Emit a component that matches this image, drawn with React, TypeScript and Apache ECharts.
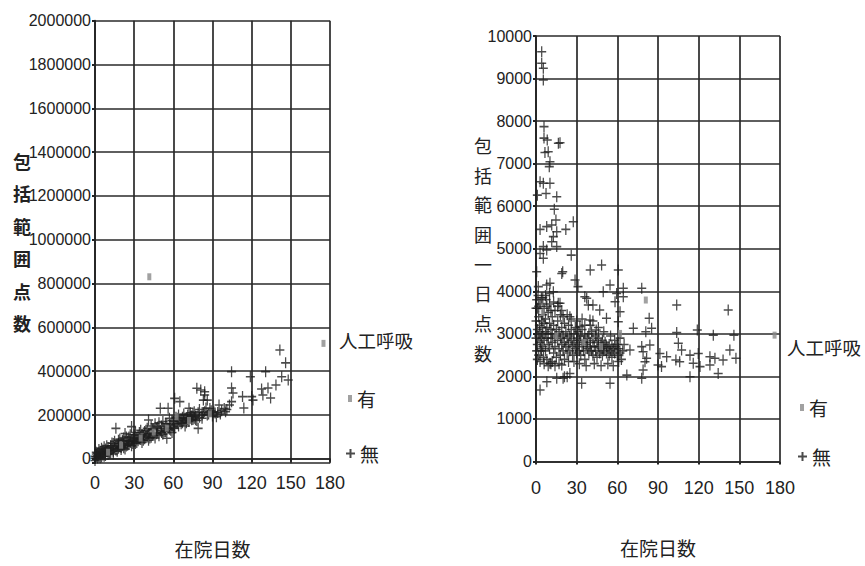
import React, { useEffect, useRef } from "react";
import * as echarts from "echarts";

// 在院日数 tick labels (shared by both panels)
const dayTicks = [0, 30, 60, 90, 120, 150, 180];

// Left panel: 包括範囲点数 by 在院日数, [days, points]
const totalWithVent: [number, number][] = [
  [41.6, 831000], [175, 527000], [10, 30000], [20, 62000], [35, 95000],
  [45, 122000], [55, 140000], [62.5, 192000], [72, 175000], [88, 205000],
];

const totalWithoutVent: [number, number][] = [
  [0, 3000], [0, -8000], [1, 9000], [1, 22000], [2, 4000], [2, 15000], [3, 28000], [3, 10000],
  [4, 18000], [4, 35000], [5, 8000], [5, 26000], [6, 40000], [6, 17000], [7, 30000], [7, 12000],
  [8, 45000], [8, 24000], [9, 33000], [10, 52000], [10, 20000], [11, 38000], [12, 28000],
  [12, 60000], [13, 44000], [14, 35000], [14, 70000], [15, 50000], [16, 40000], [16, 139000],
  [17, 62000], [18, 48000], [18, 85000], [19, 55000], [20, 72000], [20, 42000], [21, 60000],
  [22, 95000], [22, 50000], [23, 116000], [23, 68000], [24, 58000], [25, 80000], [26, 65000],
  [26, 100000], [27, 75000], [28, 147000], [28, 60000], [29, 90000], [30, 78000], [30, 110000],
  [31, 70000], [32, 95000], [33, 82000], [34, 120000], [35, 88000], [36, 75000], [37, 105000],
  [38, 92000], [39, 130000], [40, 100000], [41, 177000], [41, 85000], [42, 115000], [43, 98000],
  [44, 135000], [45, 108000], [46, 95000], [47, 140000], [48, 118000], [49, 105000],
  [50, 231000], [50, 130000], [51, 150000], [52, 112000], [53, 140000], [54, 125000],
  [55, 94000], [55, 160000], [56, 231000], [57, 135000], [58, 155000], [59, 120000],
  [60, 170000], [61, 276000], [61, 140000], [62, 160000], [63, 185000], [64, 150000],
  [65, 261000], [65, 172000], [66, 160000], [67, 190000], [68, 175000], [69, 150000],
  [70, 185000], [71, 200000], [72, 231000], [72, 170000], [73, 190000], [74, 178000],
  [75, 205000], [76, 185000], [77, 195000], [78, 322000], [78, 175000], [79, 139000],
  [79, 210000], [80, 190000], [81, 314000], [82, 200000], [83, 268000], [84, 291000],
  [84, 306000], [84, 215000], [85, 232000], [86, 268000], [87, 205000], [89, 220000],
  [90, 195000], [92, 209000], [93, 192000], [94, 212000], [95, 246000], [96, 205000],
  [100, 215000], [103, 246000], [104.6, 261000], [104.6, 323000], [104.6, 398000],
  [105.7, 300000], [113, 284000], [114, 232000], [119, 375000], [120, 284000], [121, 268000],
  [127.6, 319000], [128.6, 291000], [130.7, 398000], [132.5, 323000], [134.5, 278000],
  [138.6, 337000], [141.6, 497000], [143, 375000], [146, 438000], [148, 360000],
  [0, 12000], [1, 30000], [2, 26000], [3, 42000], [4, 5000], [5, 48000], [6, 30000],
  [7, 55000], [8, 15000], [9, 60000], [10, 38000], [11, 25000], [12, 45000], [13, 72000],
  [14, 22000], [15, 80000], [16, 58000], [17, 35000], [18, 70000], [19, 90000], [20, 52000],
  [21, 85000], [22, 70000], [23, 45000], [24, 100000], [25, 62000], [26, 82000],
  [27, 110000], [28, 85000], [29, 70000], [30, 95000], [31, 120000], [32, 75000],
  [33, 105000], [34, 90000], [35, 130000], [36, 110000], [37, 85000], [38, 125000],
  [39, 100000], [40, 140000], [41, 115000], [42, 95000], [43, 150000], [44, 110000],
  [45, 135000], [46, 160000], [47, 115000], [48, 145000], [49, 165000], [51, 120000],
  [52, 170000], [53, 125000], [54, 160000], [56, 140000], [57, 185000], [58, 130000],
  [59, 175000], [60, 145000], [62, 190000], [63, 160000], [64, 200000], [66, 180000],
  [67, 165000], [68, 205000], [69, 185000], [70, 165000], [71, 180000], [73, 210000],
  [74, 195000], [75, 180000], [76, 215000], [77, 178000], [80, 225000], [82, 185000],
  [83, 210000], [86, 200000], [88, 230000], [91, 215000], [97, 220000], [99, 230000],
  [101, 225000],
];

// Right panel: 包括範囲一日点数 by 在院日数, [days, points per day]
const dailyWithVent: [number, number][] = [
  [176, 2970], [62, 3010], [81, 3795], [5, 3500], [15, 2950], [35, 2800], [48, 2700],
];

const dailyWithoutVent: [number, number][] = [
  [4.2, 9630], [4.2, 9360], [5.4, 9240], [5.4, 8965], [5.9, 7870], [5.9, 7600], [8.3, 7555],
  [16.5, 7480], [17.7, 7490], [6.6, 7260], [9, 7280], [10.3, 7045], [9.8, 6930], [3, 6575],
  [5.4, 6540], [10.3, 6540], [7.4, 6300], [1, 6260], [15.3, 6220], [13.5, 5930], [14.7, 5675],
  [27.5, 5635], [3, 5455], [7.9, 5520], [11.6, 5560], [15.3, 5400], [22, 5455], [12.8, 5285],
  [5.4, 5050], [7.9, 4970], [11.6, 5165], [15.3, 5050], [3, 4890], [26, 4850], [19.7, 4460],
  [40, 4500], [10.3, 4190], [28.8, 4265], [31, 4110], [1.7, 4110], [12.8, 3990], [36, 3870],
  [38.6, 3680], [17.7, 3720], [19, 4420], [48.4, 4620], [5.4, 4775], [0.5, 4460], [7.9, 4150],
  [54.6, 4150], [37.4, 3835], [49.6, 3990], [59.5, 3950], [16.4, 3720], [42, 3680], [47, 3560],
  [52, 3365], [39.8, 3325], [60.7, 3285], [25, 3400], [32.4, 3170], [44.4, 3090], [10.3, 2310],
  [19, 2270], [25, 2070], [8, 1875], [15.3, 1955], [20, 1955], [21, 1990], [23, 1990],
  [33.7, 1840], [54.6, 1840], [3, 1680], [60.7, 4500], [64.4, 4070], [78, 4070], [64.4, 3870],
  [58.3, 3755], [103.8, 3680], [141.8, 3560], [62, 3520], [83.5, 3365], [71.8, 3130],
  [85.3, 3130], [81, 3050], [103.8, 3030], [119, 3090], [130.8, 2970], [146, 2970],
  [105, 2780], [107.4, 2620], [78, 2700], [84, 2740], [69.3, 2620], [79, 2580], [91.4, 2540],
  [96.4, 2460], [113.6, 2500], [119.7, 2540], [128.3, 2460], [132, 2425], [138, 2385],
  [143, 2620], [147.5, 2425], [103.2, 2385], [106, 2345], [116, 2310], [121, 2230],
  [128.3, 2270], [90, 2270], [92.6, 2230], [79, 2150], [67, 2030], [78, 1955], [134.4, 2070],
  [113.6, 1990], [80.4, 2345], [81.6, 2425],
  [0, 2900], [0, 3300], [0.5, 2600], [1, 3100], [1, 3600], [1, 2750], [1.5, 3900], [2, 2950],
  [2, 3400], [2, 2500], [2.5, 3200], [3, 2800], [3, 3700], [3, 3050], [3.5, 2650], [4, 3300],
  [4, 2900], [4, 3850], [4.5, 3150], [5, 2700], [5, 3450], [5, 3000], [5.5, 2450], [6, 3250],
  [6, 2850], [6, 3600], [7, 3050], [7, 2600], [7, 3350], [7.5, 3800], [8, 2900], [8, 3150],
  [8, 2400], [9, 3500], [9, 2750], [9, 3000], [10, 3250], [10, 2650], [10, 3700], [11, 2900],
  [11, 3100], [11, 2300], [12, 3400], [12, 2800], [12, 3000], [13, 2550], [13, 3200],
  [14, 2950], [14, 3550], [14, 2700], [15, 3100], [15, 2450], [16, 2850], [16, 3300],
  [17, 2650], [17, 3050], [18, 2900], [18, 3450], [18, 2500], [19, 2750], [19, 3150],
  [20, 2950], [20, 2600], [21, 3250], [21, 2800], [22, 2700], [22, 3050], [23, 2550],
  [23, 2900], [24, 3200], [24, 2750], [25, 2600], [25, 2950], [26, 2850], [26, 3100],
  [27, 2700], [27, 2500], [28, 3000], [28, 2800], [29, 2650], [29, 3150], [30, 2900],
  [30, 2550], [31, 2750], [31, 3050], [32, 2600], [32, 2850], [33, 2950], [33, 2500],
  [34, 2700], [34, 3100], [35, 2800], [35, 2600], [36, 2950], [36, 2400], [37, 2750],
  [38, 2650], [38, 2900], [39, 3000], [39, 2550], [40, 2800], [40, 2700], [41, 2600],
  [41, 3050], [42, 2850], [42, 2500], [43, 2700], [44, 2950], [44, 2600], [45, 2800],
  [45, 2450], [46, 2700], [46, 2900], [47, 2550], [48, 2750], [48, 2650], [49, 2850],
  [49, 2500], [50, 2700], [50, 2600], [51, 2800], [52, 2550], [52, 2700], [53, 2650],
  [54, 2500], [54, 2750], [55, 2600], [56, 2700], [56, 2450], [57, 2650], [58, 2550],
  [59, 2700], [60, 2500], [61, 2650], [62, 2550], [63, 2400],
  [0, 3600], [0.5, 3800], [1, 2400], [2, 3650], [3, 2350], [4, 2600], [5, 3850], [6, 2300],
  [7, 3900], [8, 3650], [9, 2250], [10, 3950], [11, 3550], [12, 2350], [13, 3750], [14, 2250],
  [16, 3650], [17, 2300], [19, 3550], [20, 3400], [21, 2400], [23, 3450], [24, 2350],
  [26, 3350], [28, 2350], [30, 3300], [32, 2300], [34, 3350], [36, 3200], [37, 2250],
  [40, 3200], [42, 3300], [43, 2300], [46, 3150], [48, 2250], [50, 3050], [53, 2300],
  [55, 2950], [57, 2250], [58, 2850], [60, 2750], [61, 2350], [62, 2900], [64, 2600],
  [65, 2750],
];

const NUM_FONT = "'Liberation Sans Narrow', 'Liberation Sans', Arial, sans-serif";
const JP_FONT = "'Noto Sans CJK JP', 'Noto Sans', sans-serif";
const INK = "#222222";
const PLUS = "path://M0,5L10,5M5,0L5,10";

const plusStyle = { color: "rgba(0,0,0,0)", borderColor: "#1e1e1e", borderWidth: 1.4 };
const ventStyle = { color: "#8a8a8a" };

const gridLine = { show: true, lineStyle: { color: "#2a2a2a", width: 1.7 } };

function dayAxis(gridIndex: number, labelMargin: number) {
  return {
    type: "value" as const,
    gridIndex,
    min: dayTicks[0],
    max: dayTicks[dayTicks.length - 1],
    interval: dayTicks[1] - dayTicks[0],
    name: "在院日数",
    nameLocation: "middle" as const,
    nameGap: 76,
    nameMoveOverlap: false,
    nameTextStyle: { fontFamily: JP_FONT, fontSize: 19, color: INK },
    axisLine: { show: true, lineStyle: { color: INK, width: 1.7 } },
    axisTick: { show: true, length: 3, lineStyle: { color: INK, width: 2 } },
    axisLabel: { fontFamily: NUM_FONT, fontSize: 18, color: INK, margin: labelMargin },
    splitLine: gridLine,
  };
}

function plusSeries(name: string, idx: number, data: [number, number][]) {
  return {
    type: "scatter" as const,
    name,
    xAxisIndex: idx,
    yAxisIndex: idx,
    data,
    symbol: PLUS,
    symbolSize: [9, 11],
    itemStyle: plusStyle,
  };
}

function ventSeries(name: string, idx: number, data: [number, number][]) {
  return {
    type: "scatter" as const,
    name,
    xAxisIndex: idx,
    yAxisIndex: idx,
    data,
    symbol: "rect",
    symbolSize: [4, 7],
    itemStyle: ventStyle,
  };
}

// one legend entry per block so each keeps its own marker size
function legendEntry(name: string, left: number, top: number, w: number, h: number) {
  return {
    left,
    top,
    orient: "vertical" as const,
    itemWidth: w,
    itemHeight: h,
    selectedMode: false,
    data: [name],
    textStyle: { fontFamily: JP_FONT, fontSize: 19, color: INK },
  };
}

export default function App() {
  const ref = useRef<HTMLDivElement>(null);

  useEffect(() => {
    if (!ref.current) return;
    const chart = echarts.init(ref.current, null, { renderer: "svg" });
    chart.setOption({
      animation: false,
      backgroundColor: "#ffffff",
      grid: [
        { left: 95, width: 235, top: 20.7, bottom: 102.8 },
        { left: 536, width: 244, top: 36, bottom: 104.5 },
      ],
      xAxis: [dayAxis(0, 11), dayAxis(1, 17)],
      yAxis: [
        {
          type: "value",
          gridIndex: 0,
          min: -20000,
          max: 2000000,
          splitNumber: 10,
          name: "包\n括\n範\n囲\n点\n数",
          nameLocation: "middle",
          nameRotate: 0,
          nameGap: 64,
          nameMoveOverlap: false,
          nameTextStyle: {
            fontFamily: JP_FONT,
            fontSize: 18,
            fontWeight: "bold",
            color: INK,
            lineHeight: 32.5,
          },
          axisLine: { show: true, lineStyle: { color: INK, width: 1.7 } },
          axisTick: { show: true, length: 3, lineStyle: { color: INK, width: 2 } },
          axisLabel: {
            fontFamily: NUM_FONT,
            fontSize: 16,
            color: INK,
            margin: 4,
            formatter: (v: number) => (v < 0 ? "" : String(v)),
          },
          splitLine: gridLine,
        },
        {
          type: "value",
          gridIndex: 1,
          min: 0,
          max: 10000,
          interval: 1000,
          name: "包\n括\n範\n囲\n一\n日\n点\n数",
          nameLocation: "middle",
          nameRotate: 0,
          nameGap: 44,
          nameMoveOverlap: false,
          nameTextStyle: { fontFamily: JP_FONT, fontSize: 18, color: INK, lineHeight: 29.7 },
          axisLine: { show: true, lineStyle: { color: INK, width: 1.7 } },
          axisTick: { show: true, length: 3, lineStyle: { color: INK, width: 2 } },
          axisLabel: {
            fontFamily: NUM_FONT,
            fontSize: 16,
            color: INK,
            margin: 4,
            formatter: (v: number) => String(v),
          },
          splitLine: gridLine,
        },
      ],
      legend: [
        legendEntry("有", 343, 384, 4, 7),
        legendEntry("無", 340, 439, 9, 11),
        legendEntry("有", 795, 393, 4, 7),
        legendEntry("無", 792, 442, 9, 11),
      ],
      graphic: [
        {
          type: "text",
          left: 339,
          top: 331,
          style: { text: "人工呼吸", fontFamily: JP_FONT, fontSize: 18.5, fill: INK },
        },
        {
          type: "text",
          left: 787,
          top: 338,
          style: { text: "人工呼吸", fontFamily: JP_FONT, fontSize: 18.5, fill: INK },
        },
      ],
      series: [
        plusSeries("無", 0, totalWithoutVent),
        ventSeries("有", 0, totalWithVent),
        plusSeries("無", 1, dailyWithoutVent),
        ventSeries("有", 1, dailyWithVent),
      ],
    });
    return () => chart.dispose();
  }, []);

  return (
    <div
      ref={ref}
      style={{ position: "absolute", left: 0, top: 0, width: 865, height: 566 }}
    />
  );
}
